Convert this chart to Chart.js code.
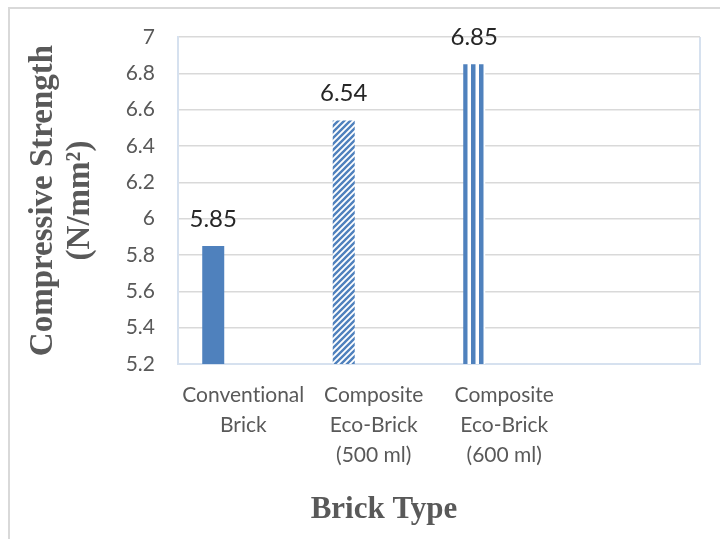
<!DOCTYPE html>
<html>
<head>
<meta charset="utf-8">
<script src="https://cdn.jsdelivr.net/npm/chart.js@4"></script>
<style>
  html, body { margin: 0; padding: 0; background: #ffffff; }
  #c { display: block; }
</style>
</head>
<body>
<canvas id="c" width="720" height="539"></canvas>
<script>
// ---- data ----
const categories = [
  ["Conventional", "Brick"],
  ["Composite", "Eco-Brick", "(500 ml)"],
  ["Composite", "Eco-Brick", "(600 ml)"],
  ""
];
const strengthValues = [5.85, 6.54, 6.85, null];
const yMin = 5.2;
const yMax = 7;
const yStep = 0.2;
const yTitleLines = ["Compressive Strength", "(N/mm\u00B2)"];
const xTitle = "Brick Type";

// ---- styles ----
const BLUE = '#4f81bd';
const TEXT = '#595959';

function diagPattern() {
  const t = document.createElement('canvas');
  t.width = 6; t.height = 6;
  const g = t.getContext('2d');
  g.fillStyle = '#ffffff'; g.fillRect(0, 0, 6, 6);
  g.strokeStyle = BLUE; g.lineWidth = 2.4;
  g.beginPath();
  g.moveTo(-1, 7); g.lineTo(7, -1);
  g.moveTo(-4, 4); g.lineTo(4, -4);
  g.moveTo(2, 10); g.lineTo(10, 2);
  g.stroke();
  return g.createPattern(t, 'repeat');
}
function vertPattern() {
  const t = document.createElement('canvas');
  t.width = 8; t.height = 4;
  const g = t.getContext('2d');
  g.fillStyle = '#ffffff'; g.fillRect(0, 0, 8, 4);
  g.fillStyle = BLUE; g.fillRect(0, 0, 4.5, 4);
  return g.createPattern(t, 'repeat');
}
const pDiag = diagPattern();
const pVert = vertPattern();
const barFills = [BLUE, pDiag, pVert, BLUE];

const framePlugin = {
  id: 'frame',
  beforeDraw(chart) {
    const c = chart.ctx;
    try { c.textRendering = 'optimizeSpeed'; } catch (e) {}
    c.save();
    c.fillStyle = '#ffffff';
    c.fillRect(0, 0, chart.width, chart.height);
    c.fillStyle = '#d9d9d9';
    c.fillRect(8, 7, 2, chart.height - 7);
    c.fillRect(8, 7, chart.width - 8, 2);
    c.restore();
  },
  beforeDatasetsDraw(chart) {
    const meta = chart.getDatasetMeta(0);
    meta.data.forEach((el, i) => {
      const fill = barFills[i];
      if (fill && typeof fill === 'object' && fill.setTransform) {
        const left = Math.round(el.x - el.width / 2);
        fill.setTransform(new DOMMatrix().translate(left, 0));
      }
    });
  },
  afterDatasetsDraw(chart) {
    const c = chart.ctx;
    const meta = chart.getDatasetMeta(0);
    c.save();
    c.font = '24px Lato';
    c.fillStyle = '#262626';
    c.textAlign = 'center';
    c.textBaseline = 'middle';
    meta.data.forEach((el, i) => {
      const v = strengthValues[i];
      if (v == null) return;
      c.fillText(v.toFixed(2), el.x, el.y - 27);
    });
    c.restore();
  },
  afterDraw(chart) {
    const c = chart.ctx;
    c.save();
    c.font = 'bold 31px "Liberation Serif"';
    c.fillStyle = TEXT;
    c.textAlign = 'center';
    c.textBaseline = 'alphabetic';
    c.fillText(xTitle, 384, 518);
    c.restore();
  }
};

new Chart(document.getElementById('c'), {
  type: 'bar',
  data: {
    labels: categories,
    datasets: [
      {
        label: 'Compressive Strength',
        data: strengthValues,
        backgroundColor: barFills,
        borderWidth: 0,
        categoryPercentage: 0.69,
        barPercentage: 0.733
      },
      { label: '', data: [], categoryPercentage: 0.69, barPercentage: 0.733 },
      { label: '', data: [], categoryPercentage: 0.69, barPercentage: 0.733 }
    ]
  },
  plugins: [framePlugin],
  options: {
    responsive: false,
    animation: false,
    events: [],
    layout: { padding: { left: 25, right: 20, top: 37, bottom: 0 } },
    plugins: {
      legend: { display: false },
      tooltip: { enabled: false },
      title: { display: false }
    },
    scales: {
      x: {
        offset: true,
        grid: {
          display: true,
          offset: true,
          drawTicks: false,
          lineWidth: 2,
          color: (ctx) => ctx.type === 'tick' ? 'rgba(0,0,0,0)' : '#d6e1ef'
        },
        border: { display: true, color: '#d6e1ef', width: 2 },
        ticks: {
          padding: 16,
          color: TEXT,
          autoSkip: false,
          maxRotation: 0,
          font: { family: 'Lato', size: 21, lineHeight: 1.43 }
        },
        afterFit: (s) => { s.height = 175; }
      },
      y: {
        min: yMin,
        max: yMax,
        grid: { color: '#d9d9d9', lineWidth: 1.5, drawTicks: false },
        border: { display: true, color: '#d6e1ef', width: 2 },
        ticks: {
          stepSize: yStep,
          padding: 23,
          color: TEXT,
          font: { family: 'Lato', size: 21 },
          callback: (v) => String(+(+v).toFixed(1))
        },
        title: {
          display: true,
          text: yTitleLines,
          color: TEXT,
          font: { family: 'Liberation Serif', size: 33, weight: 'bold', lineHeight: 1.13 },
          padding: { top: 0, bottom: 0 }
        },
        afterFit: (s) => { s.width = 178 - 25; }
      }
    }
  }
});
</script>
</body>
</html>
